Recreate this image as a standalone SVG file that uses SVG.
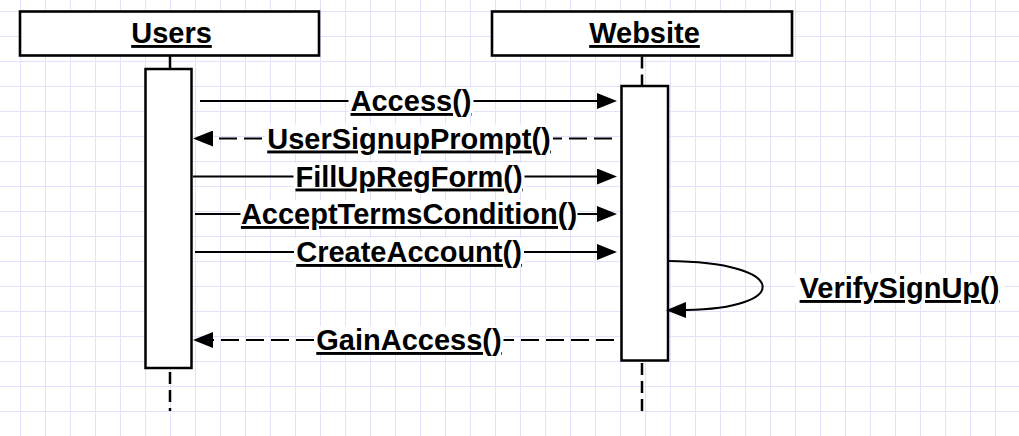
<svg xmlns="http://www.w3.org/2000/svg" width="1019" height="436" viewBox="0 0 1019 436">
<style>
.grid line{stroke:#e4e2fb;stroke-width:1}
.hdr{fill:#fff;stroke:#000;stroke-width:2.6}
.act{fill:#fff;stroke:#000;stroke-width:2.5}
.life{fill:none;stroke:#000;stroke-width:2.5;stroke-dasharray:12 6}
.msg{fill:none;stroke:#000;stroke-width:2}
.ret{stroke-dasharray:18 7}
.lbl{font-family:"Liberation Sans",Arial,sans-serif;font-weight:bold;font-size:29px;text-anchor:middle;text-decoration:underline;fill:#000}
.bg{fill:#fff}
</style>
<defs>
<marker id="arr" viewBox="0 0 20 16" refX="0" refY="8" markerWidth="20" markerHeight="16" markerUnits="userSpaceOnUse" orient="auto">
<path d="M0,0 L20,8 L0,16 z" fill="#000" stroke="none"/>
</marker>
</defs>
<rect width="1019" height="436" fill="#fff"/>
<g class="grid">
<line x1="20.5" y1="0" x2="20.5" y2="436"/><line x1="45.5" y1="0" x2="45.5" y2="436"/><line x1="70.5" y1="0" x2="70.5" y2="436"/><line x1="95.5" y1="0" x2="95.5" y2="436"/><line x1="120.5" y1="0" x2="120.5" y2="436"/><line x1="145.5" y1="0" x2="145.5" y2="436"/><line x1="170.5" y1="0" x2="170.5" y2="436"/><line x1="195.5" y1="0" x2="195.5" y2="436"/><line x1="220.5" y1="0" x2="220.5" y2="436"/><line x1="245.5" y1="0" x2="245.5" y2="436"/><line x1="270.5" y1="0" x2="270.5" y2="436"/><line x1="295.5" y1="0" x2="295.5" y2="436"/><line x1="320.5" y1="0" x2="320.5" y2="436"/><line x1="345.5" y1="0" x2="345.5" y2="436"/><line x1="370.5" y1="0" x2="370.5" y2="436"/><line x1="395.5" y1="0" x2="395.5" y2="436"/><line x1="420.5" y1="0" x2="420.5" y2="436"/><line x1="445.5" y1="0" x2="445.5" y2="436"/><line x1="470.5" y1="0" x2="470.5" y2="436"/><line x1="495.5" y1="0" x2="495.5" y2="436"/><line x1="520.5" y1="0" x2="520.5" y2="436"/><line x1="545.5" y1="0" x2="545.5" y2="436"/><line x1="570.5" y1="0" x2="570.5" y2="436"/><line x1="595.5" y1="0" x2="595.5" y2="436"/><line x1="620.5" y1="0" x2="620.5" y2="436"/><line x1="645.5" y1="0" x2="645.5" y2="436"/><line x1="670.5" y1="0" x2="670.5" y2="436"/><line x1="695.5" y1="0" x2="695.5" y2="436"/><line x1="720.5" y1="0" x2="720.5" y2="436"/><line x1="745.5" y1="0" x2="745.5" y2="436"/><line x1="770.5" y1="0" x2="770.5" y2="436"/><line x1="795.5" y1="0" x2="795.5" y2="436"/><line x1="820.5" y1="0" x2="820.5" y2="436"/><line x1="845.5" y1="0" x2="845.5" y2="436"/><line x1="870.5" y1="0" x2="870.5" y2="436"/><line x1="895.5" y1="0" x2="895.5" y2="436"/><line x1="920.5" y1="0" x2="920.5" y2="436"/><line x1="945.5" y1="0" x2="945.5" y2="436"/><line x1="970.5" y1="0" x2="970.5" y2="436"/><line x1="995.5" y1="0" x2="995.5" y2="436"/>
<line x1="0" y1="11.5" x2="1019" y2="11.5"/><line x1="0" y1="36.5" x2="1019" y2="36.5"/><line x1="0" y1="61.5" x2="1019" y2="61.5"/><line x1="0" y1="86.5" x2="1019" y2="86.5"/><line x1="0" y1="111.5" x2="1019" y2="111.5"/><line x1="0" y1="136.5" x2="1019" y2="136.5"/><line x1="0" y1="161.5" x2="1019" y2="161.5"/><line x1="0" y1="186.5" x2="1019" y2="186.5"/><line x1="0" y1="211.5" x2="1019" y2="211.5"/><line x1="0" y1="236.5" x2="1019" y2="236.5"/><line x1="0" y1="261.5" x2="1019" y2="261.5"/><line x1="0" y1="286.5" x2="1019" y2="286.5"/><line x1="0" y1="311.5" x2="1019" y2="311.5"/><line x1="0" y1="336.5" x2="1019" y2="336.5"/><line x1="0" y1="361.5" x2="1019" y2="361.5"/><line x1="0" y1="386.5" x2="1019" y2="386.5"/><line x1="0" y1="411.5" x2="1019" y2="411.5"/>
</g>
<g id="node-users">
<line x1="170" y1="56" x2="170" y2="69" stroke="#000" stroke-width="2.5"/>
<line class="life" x1="170" y1="372" x2="170" y2="411"/>
<rect class="hdr" x="20" y="11.5" width="299" height="44"/>
<text class="lbl" x="171.5" y="43">Users</text>
<rect class="act" x="145.5" y="69" width="46" height="299"/>
</g>
<g id="node-website">
<line class="life" x1="642" y1="56.5" x2="642" y2="86"/>
<line class="life" x1="642" y1="363" x2="642" y2="411"/>
<rect class="hdr" x="492" y="11.5" width="300" height="44"/>
<text class="lbl" x="644.5" y="43">Website</text>
<rect class="act" x="621.5" y="86" width="46.5" height="274.5"/>
</g>
<g id="connectors">
<path class="msg" d="M200,101 H597" marker-end="url(#arr)"/>
<path class="msg ret" d="M612,138.5 H213" marker-end="url(#arr)"/>
<path class="msg" d="M193,176.5 H597" marker-end="url(#arr)"/>
<path class="msg" d="M195,214 H597" marker-end="url(#arr)"/>
<path class="msg" d="M195,252 H597" marker-end="url(#arr)"/>
<path class="msg" d="M668,261 C792,262 790,309 686,310" marker-end="url(#arr)"/>
<path class="msg ret" d="M614,340 H213" marker-end="url(#arr)"/>
</g>
<g id="labels">
<rect class="bg" x="348.5" y="87" width="125" height="29"/>
<text class="lbl" x="411" y="111">Access()</text>
<rect class="bg" x="265" y="124.5" width="288" height="29"/>
<text class="lbl" x="409" y="148.5">UserSignupPrompt()</text>
<rect class="bg" x="293.5" y="162.5" width="231" height="29"/>
<text class="lbl" x="409" y="186.5">FillUpRegForm()</text>
<rect class="bg" x="240.5" y="200" width="337" height="29"/>
<text class="lbl" x="409" y="224">AcceptTermsCondition()</text>
<rect class="bg" x="294" y="238" width="230" height="29"/>
<text class="lbl" x="409" y="262">CreateAccount()</text>
<rect class="bg" x="795" y="274" width="209" height="29"/>
<text class="lbl" x="899.5" y="298">VerifySignUp()</text>
<rect class="bg" x="314.5" y="326" width="189" height="29"/>
<text class="lbl" x="409" y="350">GainAccess()</text>
</g>
</svg>
